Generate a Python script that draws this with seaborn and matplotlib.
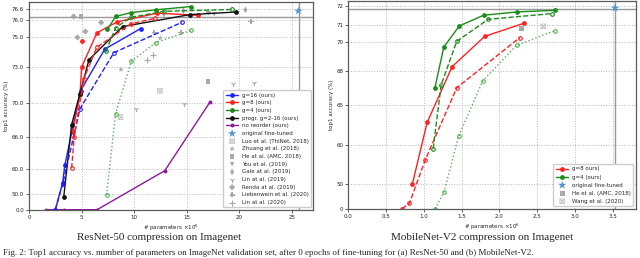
import numpy as np
import matplotlib
matplotlib.use("Agg")
import matplotlib.pyplot as plt
import seaborn as sns

# ---------------- data: ResNet-50 ----------------
r_g16_x = [2.5, 3.2, 3.4, 4.9, 7.2, 10.6]
r_g16_y = [0.0, 54.5, 60.6, 71.0, 74.2, 75.5]
r_g16d_x = [2.5, 3.2, 4.85, 8.07, 14.5]
r_g16d_y = [0.0, 54.0, 69.3, 73.97, 75.86]
r_g8_x = [4.15, 4.85, 5.0, 6.45, 8.4, 12.2, 16.1]
r_g8_y = [66.6, 70.7, 73.0, 75.25, 75.9, 76.38, 76.26]
r_g8d_x = [4.05, 4.3, 5.2, 6.45, 9.67, 12.0]
r_g8d_y = [60.1, 66.0, 72.0, 74.33, 75.78, 76.1]
r_g8s_x = [5.0]
r_g8s_y = [74.75]
r_g4_x = [7.45, 8.23, 9.73, 12.06, 15.4]
r_g4_y = [75.45, 76.2, 76.41, 76.56, 76.74]
r_g4d_x = [7.3, 8.23, 9.67, 12.85, 19.3]
r_g4d_y = [74.05, 75.55, 76.15, 76.48, 76.58]
r_g4o_x = [7.37, 8.23, 9.73, 12.06, 15.4]
r_g4o_y = [48.0, 68.7, 73.4, 74.64, 75.39]
r_prog_x = [3.3, 4.05, 4.82, 5.7, 8.9, 15.3, 19.65]
r_prog_y = [40.3, 67.4, 70.7, 73.5, 75.62, 76.3, 76.44]
r_norr_x = [1.63, 3.3, 6.47, 12.9, 17.2]
r_norr_y = [0.0, 0.0, 0.0, 59.2, 70.05]
r_orig_x = [25.6]
r_orig_y = [76.5]
r_base_x = 25.7
r_base_y = 76.15

luo_x, luo_y = [8.7, 12.44], [68.3, 71.0]
zhuang_x, zhuang_y = [8.74, 12.47], [72.8, 74.93]
amc_x, amc_y = [4.94, 17.03], [76.2, 71.8]
you_x, you_y = [12.82, 17.6], [76.25, 76.31]
gale_x, gale_y = [20.57, 14.67], [76.56, 76.52]
lin19_x, lin19_y = [10.2, 14.7, 19.4, 21.34], [69.3, 69.8, 71.6, 71.7]
renda_x, renda_y = [4.24, 5.36, 4.6, 6.86], [76.2, 75.33, 74.98, 75.86]
lieb_x, lieb_y = [11.9, 14.45, 21.1, 17.06], [75.27, 75.27, 75.92, 76.44]
lin20_x, lin20_y = [11.26, 11.77], [73.5, 73.8]

r_yticks = [0.0, 50.0, 60.0, 66.0, 70.0, 73.0, 75.0, 76.0, 76.6]
r_xticks = [0, 5, 10, 15, 20, 25]

# ---------------- data: MobileNet-V2 ----------------
m_g8_x = [0.85, 1.045, 1.375, 1.805, 2.32]
m_g8_y = [50.0, 62.8, 68.28, 70.31, 71.07]
m_g8d_x = [0.71, 0.81, 1.02, 1.436, 2.27]
m_g8d_y = [0.0, 10.7, 56.1, 66.5, 70.24]
m_g4_x = [1.146, 1.265, 1.47, 1.79, 2.227, 2.74]
m_g4_y = [66.47, 69.63, 70.92, 71.51, 71.69, 71.78]
m_g4d_x = [1.124, 1.23, 1.436, 1.853, 2.69]
m_g4d_y = [58.97, 66.76, 70.02, 71.29, 71.6]
m_g4o_x = [1.15, 1.27, 1.46, 1.78, 2.227, 2.74]
m_g4o_y = [0.0, 34.0, 61.05, 67.1, 69.75, 70.65]
m_orig_x = [3.53]
m_orig_y = [71.9]
m_base_x = 3.53
m_base_y = 71.85
m_amc_x, m_amc_y = [2.29], [70.76]
m_wang_x, m_wang_y = [2.58], [70.9]

m_yticks = [0, 50, 60, 65, 68, 70, 71, 72]
m_xticks = [0.0, 0.5, 1.0, 1.5, 2.0, 2.5, 3.0, 3.5]

# ---------------- style ----------------
sns.set_theme(style="whitegrid", rc={"grid.linestyle": ":", "grid.color": "#b8b8b8",
                                     "grid.linewidth": 0.7})
plt.rcParams["font.family"] = ["DejaVu Sans"]

FS = 4


def make_scale(vals, pos):
    vals = np.asarray(vals, float)
    pos = np.asarray(pos, float)
    s_lo = (pos[1] - pos[0]) / (vals[1] - vals[0])
    s_hi = (pos[-1] - pos[-2]) / (vals[-1] - vals[-2])

    def fwd(v):
        v = np.asarray(v, float)
        out = np.interp(v, vals, pos)
        out = np.where(v > vals[-1], pos[-1] + (v - vals[-1]) * s_hi, out)
        out = np.where(v < vals[0], pos[0] + (v - vals[0]) * s_lo, out)
        return out

    def inv(p):
        p = np.asarray(p, float)
        out = np.interp(p, pos, vals)
        out = np.where(p > pos[-1], vals[-1] + (p - pos[-1]) / s_hi, out)
        out = np.where(p < pos[0], vals[0] + (p - pos[0]) / s_lo, out)
        return out
    return fwd, inv


def line(ax, x, y, color, ls, filled, label=None, alpha=1.0, ms=2.6):
    sns.lineplot(x=x, y=y, ax=ax, color=color, linestyle=ls, marker="o",
                 markersize=ms, markerfacecolor=color if filled else "none",
                 markeredgecolor=color, markeredgewidth=0.8, linewidth=1.0,
                 sort=False, estimator=None, alpha=alpha,
                 label=label if label else "_nolegend_")


def pts(ax, x, y, marker, label, color="#a8a8a8", s=10, lw=0.0, alpha=1.0):
    kw = dict(linewidth=lw)
    if lw > 0:
        kw["edgecolor"] = color
    else:
        kw["edgecolor"] = "none"
    sns.scatterplot(x=x, y=y, ax=ax, marker=marker, s=s, color=color,
                    label=label, alpha=alpha, **kw)


def style_axes(ax, xticks, yticks, ylabels, xlim, ylim):
    ax.set_xlim(*xlim)
    ax.set_ylim(*ylim)
    ax.set_xticks(xticks)
    ax.set_yticks(yticks)
    ax.set_yticklabels(ylabels)
    ax.tick_params(labelsize=FS, length=2, width=0.5, pad=1.5,
                   bottom=True, left=True, colors="#222222")
    for sp in ax.spines.values():
        sp.set_color("#5a5a5a")
        sp.set_linewidth(0.9)
    ax.grid(True, linestyle=":", color="#b8b8b8", linewidth=0.7)
    ax.set_xlabel("# parameters $\\times10^6$", fontsize=FS, labelpad=2)
    ax.set_ylabel("top1 accuracy (%)", fontsize=FS, labelpad=2)


fig = plt.figure(figsize=(6.4, 2.58), dpi=100)
ax1 = fig.add_axes([0.0453, 0.1872, 0.444, 0.806])
ax2 = fig.add_axes([0.544, 0.191, 0.449, 0.806])

# ---- left ----
fwd1, inv1 = make_scale(r_yticks, [0, 15.4, 41, 73, 107, 142.4, 172.4, 189.4, 200.4])
ax1.set_yscale("function", functions=(fwd1, inv1))
ax1.axhline(r_base_y, color="#999999", lw=1.0, zorder=1)
ax1.axvline(r_base_x, color="#999999", lw=1.0, zorder=1)

line(ax1, r_g16_x, r_g16_y, "#1f1fff", "-", True, "g=16 (ours)")
line(ax1, r_g8_x, r_g8_y, "#ff2020", "-", True, "g=8 (ours)")
line(ax1, r_g4_x, r_g4_y, "#1a8c1a", "-", True, "g=4 (ours)")
line(ax1, r_prog_x, r_prog_y, "#111111", "-", True, "progr. g=2-16 (ours)")
line(ax1, r_norr_x, r_norr_y, "#8b1a9b", "-", True, "no reorder (ours)", ms=2.0)
line(ax1, r_g16d_x, r_g16d_y, "#1f1fff", "--", False)
line(ax1, r_g8d_x, r_g8d_y, "#ff2020", "--", False)
line(ax1, r_g8s_x, r_g8s_y, "#ff2020", ":", True)
line(ax1, r_g4d_x, r_g4d_y, "#1a8c1a", "--", False)
line(ax1, r_g4o_x, r_g4o_y, "#2ca02c", ":", False, alpha=0.8)

pts(ax1, r_orig_x, r_orig_y, "*", "original fine-tuned", color="#4f94d4", s=40)
pts(ax1, luo_x, luo_y, "$\\boxtimes$", "Luo et al. (ThiNet, 2018)", s=14)
pts(ax1, zhuang_x, zhuang_y, "*", "Zhuang et al. (2018)", s=18)
pts(ax1, amc_x, amc_y, "s", "He at al. (AMC, 2018)", s=10)
pts(ax1, you_x, you_y, "v", "You et al. (2019)", s=10)
pts(ax1, gale_x, gale_y, "d", "Gale at al. (2019)", s=12)
pts(ax1, lin19_x, lin19_y, "1", "Lin at al. (2019)", s=14, lw=0.8)
pts(ax1, renda_x, renda_y, "D", "Renda at al. (2019)", s=10)
pts(ax1, lieb_x, lieb_y, "P", "Liebenwein et al. (2020)", s=14)
pts(ax1, lin20_x, lin20_y, "+", "Lin at al. (2020)", s=14, lw=0.8)

style_axes(ax1, r_xticks, r_yticks, ["%.1f" % v for v in r_yticks], (0, 27), (0, 77.0))
ax1.legend(loc="lower right", fontsize=FS, labelspacing=0.48, handlelength=2.2,
           borderaxespad=0.4, borderpad=0.45, handletextpad=0.6, framealpha=1,
           edgecolor="#cccccc", markerscale=1.0)

# ---- right ----
fwd2, inv2 = make_scale(m_yticks, [0, 25, 64, 103.7, 137.7, 166.7, 183.7, 202])
ax2.set_yscale("function", functions=(fwd2, inv2))
ax2.axhline(m_base_y, color="#999999", lw=1.0, zorder=1)
ax2.axvline(m_base_x, color="#999999", lw=1.0, zorder=1)

line(ax2, m_g8_x, m_g8_y, "#ff2020", "-", True, "g=8 ours)")
line(ax2, m_g4_x, m_g4_y, "#1a8c1a", "-", True, "g=4 (ours)")
line(ax2, m_g8d_x, m_g8d_y, "#ff2020", "--", False)
line(ax2, m_g4d_x, m_g4d_y, "#1a8c1a", "--", False)
line(ax2, m_g4o_x, m_g4o_y, "#2ca02c", ":", False, alpha=0.8)

pts(ax2, m_orig_x, m_orig_y, "*", "original fine-tuned", color="#4f94d4", s=40)
pts(ax2, m_amc_x, m_amc_y, "s", "He et al. (AMC, 2018)", s=12)
pts(ax2, m_wang_x, m_wang_y, "$\\boxtimes$", "Wang et al. (2020)", s=14)

style_axes(ax2, m_xticks, m_yticks, [str(v) for v in m_yticks], (0, 3.8), (0, 72.3))
ax2.legend(loc="lower right", fontsize=FS, labelspacing=0.55, handlelength=2.2,
           borderaxespad=0.4, borderpad=0.5, handletextpad=0.6, framealpha=1,
           edgecolor="#cccccc")

# ---- sub-captions ----
fig.text(0.249, 1 - 238 / 258, "ResNet-50 compression on Imagenet", ha="center",
         va="center", family="Liberation Serif", fontsize=8)
fig.text(0.753, 1 - 238 / 258, "MobileNet-V2 compression on Imagenet", ha="center",
         va="center", family="Liberation Serif", fontsize=8)
fig.text(0.004, 1.0 / 258,
         "Fig. 2: Top1 accuracy vs. number of parameters on ImageNet validation set, "
         "after 0 epochs of fine-tuning for (a) ResNet-50 and (b) MobileNet-V2.",
         ha="left", va="bottom", family="Liberation Serif", fontsize=6.5)

fig.savefig("out.png", dpi=100)
